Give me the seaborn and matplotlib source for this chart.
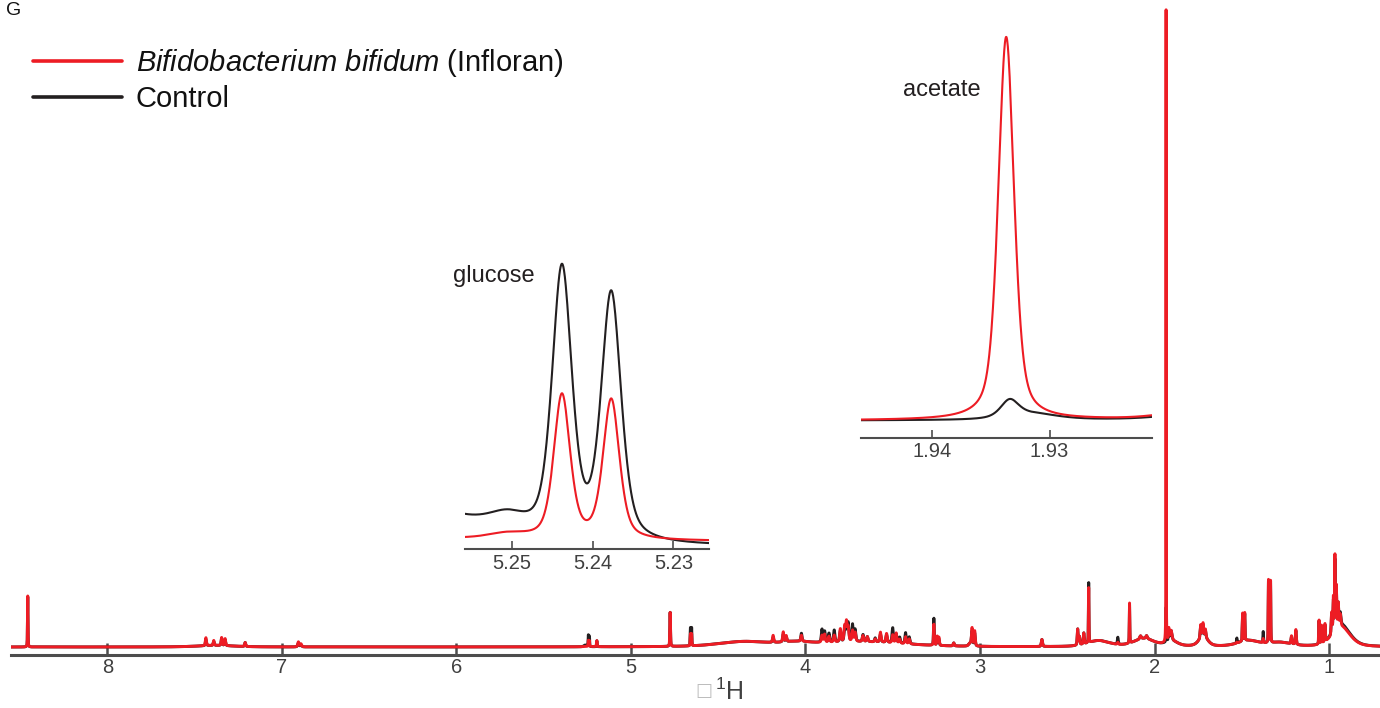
import numpy as np
import pandas as pd
import matplotlib
matplotlib.use("Agg")
import matplotlib.pyplot as plt
import seaborn as sns
from matplotlib.lines import Line2D

# ---------------------------------------------------------------------------
# 1H NMR peak table (shift in ppm, line width in ppm, peak heights per sample)
# ---------------------------------------------------------------------------
peak_ppm = [
    8.456, 7.38, 7.435, 7.39, 7.345, 7.325, 7.21, 6.905, 6.89,
    5.2438, 5.2377, 5.2438, 5.2377, 5.2505, 5.262, 5.235, 5.195,
    4.775, 4.659, 4.652, 4.35, 4.05, 4.185, 4.127, 4.11, 4.023,
    3.68, 3.905, 3.89, 3.865, 3.835, 3.80, 3.775, 3.765, 3.755, 3.73, 3.715,
    3.67, 3.645, 3.60, 3.57, 3.535, 3.50, 3.48, 3.46, 3.426, 3.405,
    3.264, 3.245, 3.235, 3.15, 3.045, 3.03, 3.055, 2.645,
    2.32, 2.44, 2.43, 2.405, 2.377, 2.21, 2.143, 2.06, 2.08, 2.045,
    1.9337, 1.9334, 1.9315, 1.918, 1.905, 1.90,
    1.735, 1.722, 1.708, 1.72, 1.528, 1.46, 1.495, 1.483, 1.377,
    1.28, 1.347, 1.335, 1.215, 1.19, 1.057, 1.043, 1.023,
    0.93, 0.985, 0.975, 0.966, 0.958, 0.947, 0.935,
]
peak_width = [
    0.003, 0.25, 0.007, 0.007, 0.007, 0.007, 0.007, 0.009, 0.009,
    0.0029, 0.0029, 0.0024, 0.0024, 0.006, 0.018, 0.1, 0.004,
    0.004, 0.003, 0.003, 0.35, 0.2, 0.008, 0.008, 0.008, 0.008,
    0.6, 0.009, 0.009, 0.009, 0.009, 0.009, 0.009, 0.009, 0.009, 0.009, 0.009,
    0.009, 0.009, 0.009, 0.009, 0.009, 0.009, 0.009, 0.009, 0.009, 0.009,
    0.005, 0.006, 0.006, 0.008, 0.007, 0.007, 0.02, 0.008,
    0.15, 0.006, 0.006, 0.006, 0.003, 0.006, 0.003, 0.14, 0.01, 0.01,
    0.0016, 0.0018, 0.005, 0.006, 0.012, 0.08,
    0.007, 0.007, 0.007, 0.06, 0.004, 0.15, 0.004, 0.004, 0.004,
    0.15, 0.003, 0.003, 0.006, 0.006, 0.004, 0.004, 0.005,
    0.12, 0.006, 0.005, 0.004, 0.005, 0.006, 0.008,
]
control_height = [
    50, 1.5, 6, 4, 7, 6, 4, 4, 2,
    11.5, 10.5, 0, 0, 0.7, 1.7, 0, 6,
    34, 18, 18, 5, 3, 5, 8, 5, 8,
    5, 13, 11, 9, 12, 11, 12, 14, 18, 17, 12,
    7, 5, 4, 8, 8, 15, 9, 6, 11, 7,
    27, 8, 6, 3, 14, 13, 3, 7,
    6, 16, 8, 11, 60, 7, 38, 8, 3, 3,
    0, 28, 10, 8, 10, 5,
    12, 11, 7, 10, 5, 6, 27, 27, 11,
    4, 62, 61, 7, 14, 23, 15, 16,
    22, 20, 30, 68, 40, 22, 12,
]
infloran_height = [
    51, 1.5, 8, 5, 8, 7, 4, 5, 3,
    0, 0, 6.15, 5.95, 0.25, 0.2, 0.25, 6,
    34, 12, 12, 5, 3, 7, 10, 6, 6,
    5, 7, 8, 6, 7, 13, 15, 19, 14, 11, 9,
    6, 5, 3, 10, 9, 8, 10, 4, 7, 5,
    21, 9, 8, 3, 17, 15, 3, 7,
    6, 16, 8, 11, 55, 2, 40, 8, 3, 3,
    632, 0, 0, 12, 10, 5,
    13, 13, 8, 10, 1, 6, 28, 28, 4,
    4, 63, 62, 8, 15, 24, 18, 18,
    20, 22, 35, 74, 42, 24, 12,
]

series_names = ["Bifidobacterium bifidum (Infloran)", "Control"]
main_ticks = [8, 7, 6, 5, 4, 3, 2, 1]
glucose_ticks = [5.25, 5.24, 5.23]
acetate_ticks = [1.94, 1.93]

RED = "#ED1C24"
BLACK = "#231F20"
AXIS = "#4d4d4d"
TICKTXT = "#404040"


def spectrum(ppm, heights):
    """Sum of pseudo-Voigt lines evaluated on a ppm grid."""
    c = np.asarray(peak_ppm)[None, :]
    w = np.asarray(peak_width)[None, :]
    h = np.asarray(heights, dtype=float)[None, :]
    d = ppm[:, None] - c
    lor = 1.0 / (1.0 + (2.0 * d / w) ** 2)
    gau = np.exp(-4.0 * np.log(2.0) * (d / w) ** 2)
    return ((0.5 * lor + 0.5 * gau) * h).sum(axis=1)


def frame(ppm):
    return pd.DataFrame({
        "ppm": ppm,
        "control": spectrum(ppm, control_height),
        "infloran": spectrum(ppm, infloran_height),
    })


sns.set_style("white")
plt.rcParams["font.family"] = ["Liberation Sans", "DejaVu Sans"]
plt.rcParams["mathtext.fontset"] = "custom"
plt.rcParams["mathtext.rm"] = "Liberation Sans"
plt.rcParams["mathtext.it"] = "Liberation Sans:italic"

W, H = 1380, 708
fig = plt.figure(figsize=(W / 100, H / 100), dpi=100)


def px_axes(left, right, bottom, top):
    return fig.add_axes([left / W, 1 - bottom / H, (right - left) / W, (bottom - top) / H])


def style_axis(ax, ticks, length, width, spine_w, pad):
    for side in ("left", "right", "top"):
        ax.spines[side].set_visible(False)
    ax.spines["bottom"].set_color(AXIS)
    ax.spines["bottom"].set_linewidth(spine_w)
    ax.set_yticks([])
    ax.set_xticks(ticks)
    ax.set_xticklabels([f"{t:g}" for t in ticks])
    ax.tick_params(axis="x", direction="in", length=length, width=width,
                   colors=AXIS, labelcolor=TICKTXT, labelsize=14.5, pad=pad,
                   bottom=True)
    ax.set_xlabel("")
    ax.set_ylabel("")
    ax.patch.set_alpha(0)


# ----------------------------- full spectrum -------------------------------
ax = px_axes(11, 1380, 655, 0)
grid = np.union1d(np.arange(0.70, 8.56, 0.0001), np.asarray(peak_ppm))
full = frame(grid)
sns.lineplot(data=full, x="ppm", y="control", ax=ax, color=BLACK, lw=2.1,
             estimator=None, sort=False)
sns.lineplot(data=full, x="ppm", y="infloran", ax=ax, color=RED, lw=2.1,
             estimator=None, sort=False)
ax.set_xlim(8.552, 0.708)
ax.set_ylim(-8, 647)
style_axis(ax, main_ticks, 8.6, 1.8, 2.2, 2)

ax.set_xlabel(r"$^{1}$H", fontsize=18, color=TICKTXT)
ax.xaxis.set_label_coords((729 - 11) / (W - 11), -(692 - 655) / 655)
ax.xaxis.label.set_va("center")
fig.text(704 / W, 1 - 691 / H, "\u25a1", fontsize=13, color="#bdbdbd",
         ha="center", va="center", family=["DejaVu Sans"])

leg = ax.legend(
    handles=[Line2D([], [], color=RED, lw=2.6), Line2D([], [], color=BLACK, lw=2.6)],
    labels=[r"$Bifidobacterium\ bifidum$ (Infloran)", series_names[1]],
    loc="upper left", bbox_to_anchor=(33 / W, 1 - 47 / H),
    bbox_transform=fig.transFigure, frameon=False, fontsize=21,
    handlelength=3.05, handletextpad=0.48, labelspacing=0.22,
    borderpad=0, borderaxespad=0,
)
for t in leg.get_texts():
    t.set_color("#111111")

fig.text(6 / W, 1 - 15 / H, "G", fontsize=14, color="#111111", va="baseline")

# ----------------------------- glucose inset -------------------------------
axg = px_axes(465, 709, 549, 250)
gppm = np.linspace(5.2256, 5.2558, 800)
gdf = frame(gppm)
sns.lineplot(data=gdf, x="ppm", y="control", ax=axg, color=BLACK, lw=1.5,
             estimator=None, sort=False)
sns.lineplot(data=gdf, x="ppm", y="infloran", ax=axg, color=RED, lw=1.5,
             estimator=None, sort=False)
axg.set_xlim(5.2558, 5.2256)
axg.set_ylim(0.136, 12.86)
style_axis(axg, glucose_ticks, 5.8, 1.2, 1.5, 3.5)
axg.text(5.2522, 11.75, "glucose", fontsize=17, color=BLACK, ha="center", va="center")

# ----------------------------- acetate inset -------------------------------
axa = px_axes(860.7, 1151.7, 438, 30)
appm = np.linspace(1.9213, 1.9461, 800)
adf = frame(appm)
sns.lineplot(data=adf, x="ppm", y="control", ax=axa, color=BLACK, lw=1.5,
             estimator=None, sort=False)
sns.lineplot(data=adf, x="ppm", y="infloran", ax=axa, color=RED, lw=1.5,
             estimator=None, sort=False)
axa.set_xlim(1.9461, 1.9213)
axa.set_ylim(-24.75, 648.5)
style_axis(axa, acetate_ticks, 5.8, 1.2, 1.5, 3.0)
axa.text(1.93917, 549.5, "acetate", fontsize=17, color=BLACK, ha="center", va="center")

fig.savefig("out.png", dpi=100)
